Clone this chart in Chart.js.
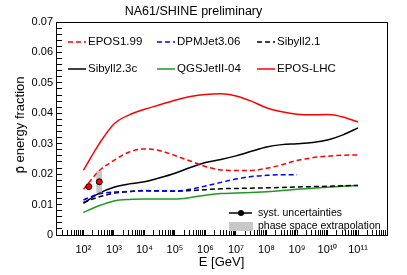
<!DOCTYPE html>
<html>
<head>
<meta charset="utf-8">
<script src="https://cdn.jsdelivr.net/npm/chart.js@4/dist/chart.umd.min.js"></script>
<style>
  body { margin: 0; background: #fff; }
</style>
</head>
<body>
<canvas id="chart" width="407" height="275"></canvas>
<script>
// energies in GeV for the model curves
const energyGeV = [1e2, 3.2e2, 1e3, 3.2e3, 1e4, 3.2e4, 1e5, 3.2e5, 1e6, 3.2e6, 1e7, 3.2e7, 1e8, 3.2e8, 1e9, 3.2e9, 1e10, 3.2e10, 1e11];

const modelNames = ['EPOS1.99', 'DPMJet3.06', 'Sibyll2.1', 'Sibyll2.3c', 'QGSJetII-04', 'EPOS-LHC'];

const epos199 = [0.0150, 0.0210, 0.0245, 0.0273, 0.0283, 0.0277, 0.0261, 0.0243, 0.0225, 0.0214, 0.0212, 0.0212, 0.0219, 0.0231, 0.0245, 0.0254, 0.0259, 0.0262, 0.0263];
const dpmjet306 = [0.0115, 0.0135, 0.0141, 0.0143, 0.0145, 0.0145, 0.0145, 0.0150, 0.0161, 0.0173, 0.0184, 0.0192, 0.0196, 0.0198, 0.0198];
const sibyll21 = [0.0107, 0.0125, 0.0137, 0.0143, 0.0146, 0.0145, 0.0144, 0.0146, 0.0149, 0.0152, 0.0153, 0.0154, 0.0155, 0.0156, 0.0158, 0.0159, 0.0160, 0.0162, 0.0163];
const sibyll23c = [0.0104, 0.0137, 0.0157, 0.0168, 0.0175, 0.0188, 0.0203, 0.0222, 0.0238, 0.0248, 0.0260, 0.0275, 0.0289, 0.0297, 0.0300, 0.0304, 0.0312, 0.0329, 0.0352];
const qgsjet04 = [0.0074, 0.0096, 0.0112, 0.0117, 0.0118, 0.0118, 0.0118, 0.0123, 0.0131, 0.0136, 0.0138, 0.0140, 0.0142, 0.0146, 0.0150, 0.0154, 0.0157, 0.0160, 0.0163];
const eposLhc = [0.0213, 0.0298, 0.0365, 0.0395, 0.0413, 0.0428, 0.0443, 0.0455, 0.0462, 0.0464, 0.0457, 0.0440, 0.0418, 0.0405, 0.0397, 0.0395, 0.0396, 0.0388, 0.0371];

// NA61/SHINE measurements
const na61E = [150, 330];
const na61Frac = [0.0159, 0.0175];

// phase space extrapolation band of the 330 GeV point
const bandE = [330];
const bandRange = [0.0140, 0.0210];

const modelValues = [epos199, dpmjet306, sibyll21, sibyll23c, qgsjet04, eposLhc];
const modelColors = ['#ff0000', '#0000ff', '#000000', '#000000', '#1f9a1f', '#ff0000'];
const modelDashed = [true, true, true, false, false, false];

const sup = d => String(d).split('').map(c => '⁰¹²³⁴⁵⁶⁷⁸⁹'[+c]).join('');
const pts = (xs, ys) => ys.map((v, i) => ({ x: xs[i], y: v }));

Chart.defaults.font.family = "'Liberation Sans', Arial, sans-serif";
Chart.defaults.color = '#000';

const datasets = modelNames.map((name, i) => ({
  label: name,
  data: pts(energyGeV, modelValues[i]),
  borderColor: modelColors[i],
  borderWidth: 1.5,
  borderDash: modelDashed[i] ? [5, 3] : [],
  pointRadius: 0,
  fill: false,
  cubicInterpolationMode: 'monotone',
  order: 5
}));

// grey band as a floating bar
datasets.push({
  type: 'bar',
  label: 'band',
  data: [{ x: bandE[0], y: bandRange }],
  backgroundColor: '#c8c8c8',
  borderWidth: 0,
  barThickness: 5,
  order: 10
});

const na61Index = datasets.length;
datasets.push({
  label: 'NA61',
  data: pts(na61E, na61Frac),
  showLine: false,
  pointRadius: 3,
  pointBackgroundColor: '#ff0000',
  pointBorderColor: '#000',
  pointBorderWidth: 1,
  order: 0
});

const legendCols = [68, 157, 257];
const legendRows = [42, 69];

const decor = {
  id: 'decor',
  beforeDatasetDraw(chart, args) {
    if (args.index !== na61Index) return;
    const { ctx, scales: { x, y } } = chart;
    const cx = x.getPixelForValue(bandE[0]);
    const y0 = y.getPixelForValue(bandRange[1]), y1 = y.getPixelForValue(bandRange[0]);
    ctx.save();
    ctx.fillStyle = '#c8c8c8';
    ctx.fillRect(cx - 2.5, y0, 5, y1 - y0);
    ctx.restore();
  },
  afterDatasetsDraw(chart) {
    const ctx = chart.ctx;
    ctx.save();
    ctx.textBaseline = 'middle';
    ctx.textAlign = 'left';
    ctx.font = "11.5px 'Liberation Sans', Arial, sans-serif";
    modelNames.forEach((name, i) => {
      const ds = chart.data.datasets[i];
      const lx = legendCols[i % 3], ly = legendRows[Math.floor(i / 3)];
      ctx.strokeStyle = ds.borderColor;
      ctx.lineWidth = ds.borderWidth;
      ctx.setLineDash(ds.borderDash);
      ctx.beginPath();
      ctx.moveTo(lx, ly);
      ctx.lineTo(lx + 18, ly);
      ctx.stroke();
      ctx.setLineDash([]);
      ctx.fillStyle = '#000';
      ctx.fillText(name, lx + 20, ly);
    });

    ctx.font = "10.5px 'Liberation Sans', Arial, sans-serif";
    ctx.strokeStyle = '#000';
    ctx.lineWidth = 1.5;
    ctx.beginPath();
    ctx.moveTo(229, 213);
    ctx.lineTo(252, 213);
    ctx.stroke();
    ctx.beginPath();
    ctx.arc(241, 213, 3, 0, Math.PI * 2);
    ctx.fillStyle = '#000';
    ctx.fill();
    ctx.fillText('syst. uncertainties', 258, 213);

    ctx.fillStyle = '#c8c8c8';
    ctx.fillRect(229, 222, 24, 9);
    ctx.fillStyle = '#000';
    ctx.fillText('phase space extrapolation', 258, 226.5);
    ctx.restore();
  }
};

// axis line plus inward ticks (negative tick length)
const frameGrid = len => ({ display: true, drawOnChartArea: false, drawTicks: true, tickLength: len, tickColor: '#000', tickWidth: 1, offset: false });
const frameBorder = { display: true, color: '#000', width: 1 };
const edgeAxis = pos => ({
  type: 'linear',
  position: pos,
  display: true,
  ticks: { display: false },
  grid: { display: true, drawOnChartArea: false, drawTicks: false },
  border: frameBorder,
  afterFit: s => { if (pos === 'top') s.height = 0; else s.width = 0; }
});

new Chart(document.getElementById('chart'), {
  type: 'line',
  data: { datasets },
  options: {
    responsive: false,
    animation: false,
    layout: { padding: { left: 0, right: 20, top: 0, bottom: 0 } },
    plugins: {
      legend: { display: false },
      tooltip: { enabled: false },
      title: {
        display: true,
        text: 'NA61/SHINE preliminary',
        font: { size: 12.5, weight: 'normal' },
        padding: { top: 4, bottom: 3 }
      }
    },
    scales: {
      x: {
        type: 'logarithmic',
        min: 12.6,
        max: 8.9e11,
        offset: false,
        grid: frameGrid(-5),
        border: frameBorder,
        afterBuildTicks: scale => {
          const t = [];
          for (let d = 1; d <= 11; d++) {
            for (let k = 1; k <= 9; k++) {
              const v = k * Math.pow(10, d);
              if (v >= scale.min && v <= scale.max) t.push({ value: v, major: k === 1 });
            }
          }
          scale.ticks = t;
        },
        afterFit: scale => { scale.height = 40; },
        ticks: {
          autoSkip: false,
          maxRotation: 0,
          padding: 13,
          font: { size: 11 },
          callback: v => {
            const d = Math.round(Math.log10(v));
            return Math.abs(v - Math.pow(10, d)) < 1e-6 * v && d >= 2 ? '10' + sup(d) : '';
          }
        },
        title: { display: true, text: 'E [GeV]', font: { size: 13 }, padding: { top: 0, bottom: 5 } }
      },
      y: {
        min: 0,
        max: 0.07,
        grid: frameGrid(-6),
        border: frameBorder,
        afterBuildTicks: scale => {
          const t = [];
          for (let i = 0; i <= 35; i++) t.push({ value: i * 0.002 });
          scale.ticks = t;
        },
        afterFit: scale => { scale.width = 56; },
        ticks: {
          autoSkip: false,
          padding: 9,
          font: { size: 11 },
          callback: (v, i) => (i % 5 !== 0 ? '' : i === 0 ? '0' : v.toFixed(2))
        },
        title: { display: true, text: '  p\u0304 energy fraction', font: { size: 13 }, padding: { top: 13, bottom: 0 } }
      },
      xTop: edgeAxis('top'),
      yRight: edgeAxis('right')
    }
  },
  plugins: [decor]
});
</script>
</body>
</html>
